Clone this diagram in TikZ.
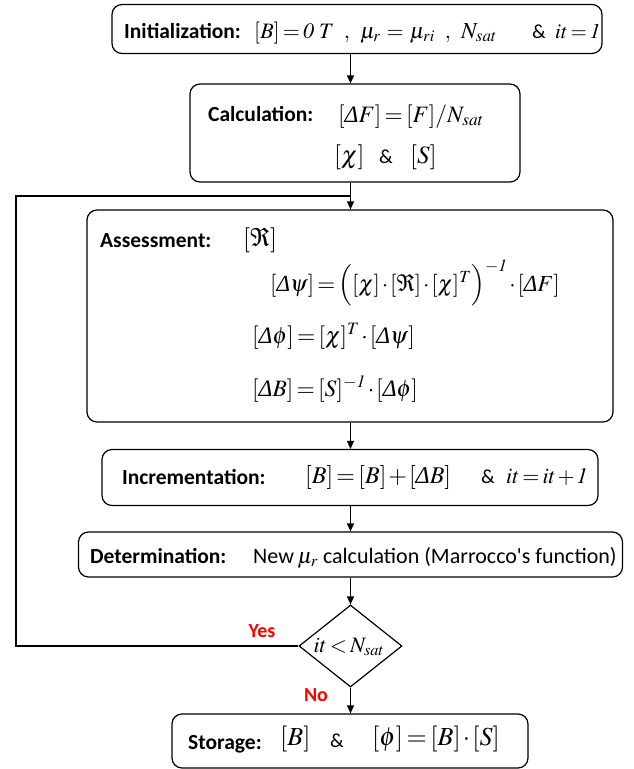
\documentclass[tikz,border=0pt]{standalone}
\usepackage{amsmath}
\usepackage{mathptmx}
\usepackage{amssymb}
\usepackage[no-math]{fontspec}
\setmainfont{Carlito}
\newfontfamily\tms{Liberation Serif}
\usetikzlibrary{arrows.meta,shapes.geometric}
\newcommand{\Dl}{\text{\tms\itshape Δ}}
\newcommand{\bk}[1]{[#1]}
\thickmuskip=2.5mu plus 1mu
\medmuskip=1.5mu
\definecolor{yesred}{RGB}{255,0,0}
\begin{document}
\begin{tikzpicture}[x=1pt,y=-1pt,
  box/.style={draw, rounded corners=10pt, line width=1.2pt, inner sep=0pt},
  lab/.style={font=\fontsize{21.5}{24}\selectfont\bfseries, inner sep=0pt, anchor=base west},
  mth/.style={font=\fontsize{#1}{#1}\selectfont, inner sep=0pt, anchor=base west},
  mth/.default=22,
  amp/.style={font=\fontsize{20}{24}\selectfont, inner sep=0pt, anchor=base west},
  txt/.style={font=\fontsize{22}{24}\selectfont, inner sep=0pt, anchor=base west},
  flow/.style={line width=1.2pt, -{Triangle[length=8pt,width=7pt]}},
  ans/.style={font=\fontsize{20}{22}\selectfont\bfseries, text=yesred, inner sep=0pt}]
\useasboundingbox (0,0) rectangle (633,769);
% boxes
\node[box, minimum width=490pt, minimum height=49pt] (init) at (357,29) {};
\node[box, minimum width=330pt, minimum height=98pt] (calc) at (355,133) {};
\node[box, minimum width=526pt, minimum height=212pt] (assess) at (350,316) {};
\node[box, minimum width=496pt, minimum height=56pt] (incr) at (350,477.5) {};
\node[box, minimum width=544pt, minimum height=45pt] (det) at (350.5,554.5) {};
\node[draw, line width=1.2pt, diamond, aspect=1.25, minimum width=103pt, minimum height=82pt, inner sep=0pt] (dec) at (350.5,646) {};
\node[box, minimum width=356pt, minimum height=54pt] (store) at (350,741) {};
% texts
\node[lab] (initL) at (124,38) {Initialization:};
\node[mth] (initM1) at (254,38) {$\bk{B}=\mathit{0}\ T\ \ ,$};
\node[mth] (initM2) at (360,38) {$\mu_r\;=\;\mu_{ri}\ \ ,$};
\node[mth=23] (initM3) at (461,38) {$N_{sat}$};
\node[amp] (initA) at (532,38) {\&};
\node[mth=21] (initM4) at (555,38) {$it=\mathit{1}$};
\node[lab] (calcL) at (208,121) {Calculation:};
\node[mth=23.5] (calcM) at (338,122) {$\bk{\Dl F}=\bk{F}/N_{sat}$};
\node[mth=25] (calcM2) at (334,163) {$\bk{\chi}$};
\node[amp] (calcA) at (379,163) {\&};
\node[mth=25] (calcM3) at (410,163) {$\bk{S}$};
\node[lab] (assL) at (100,247) {Assessment:};
\node[mth=25] (assR) at (243,246) {$\bk{\Re}$};
\node[mth=23] (ass1) at (270,291) {$\bk{\Dl\psi}=\Bigl(\bk{\chi}\cdot\bk{\Re}\cdot\bk{\chi}^T\Bigr)^{-\mathit{1}}\cdot\bk{\Dl F}$};
\node[mth=23.5] (ass2) at (252,343) {$\bk{\Dl\phi}=\bk{\chi}^T\cdot\bk{\Dl\psi}$};
\node[mth=23.5] (ass3) at (252,396) {$\bk{\Dl B}=\bk{S}^{-\mathit{1}}\cdot\bk{\Dl\phi}$};
\node[lab] (incL) at (122,484) {Incrementation:};
\node[mth=24] (incM) at (305,483) {$\bk{B}=\bk{B}+\bk{\Dl B}$};
\node[amp] (incA) at (481,483) {\&};
\node[mth=22] (incM2) at (506,483) {$it=it+\mathit{1}$};
\node[lab] (detL) at (90,563) {Determination:};
\node[txt] (detM) at (253,563) {New\,$\mu_r$ calculation (Marrocco\textquotesingle s function)};
\node[mth, anchor=center] (decM) at (349,647) {$it<N_{sat}$};
\node[lab] (stL) at (188,749) {Storage:};
\node[mth=26] (stM1) at (280,745) {$\bk{B}$};
\node[amp] (stA) at (330,747) {\&};
\node[mth=26] (stM2) at (372,745) {$\bk{\phi}=\bk{B}\cdot\bk{S}$};
\node[ans] (yes) at (262,631) {Yes};
\node[ans] (no) at (316,695) {No};
% connectors
\coordinate (lx) at (16,646);
\coordinate (ly) at (16,196);
\coordinate (jn) at (350.5,196);
\draw[flow] (init.south -| dec.north) -- (calc.north -| dec.north);
\draw[flow] (calc.south -| dec.north) -- (assess.north -| dec.north);
\draw[flow] (assess.south -| dec.north) -- (incr.north -| dec.north);
\draw[flow] (incr.south -| dec.north) -- (det.north -| dec.north);
\draw[flow] (det.south -| dec.north) -- (dec.north);
\draw[flow] (dec.south) -- (store.north -| dec.south);
\draw[line width=1.2pt] (dec.west) -- (lx) -- (ly) -- (jn);
\end{tikzpicture}
\end{document}
